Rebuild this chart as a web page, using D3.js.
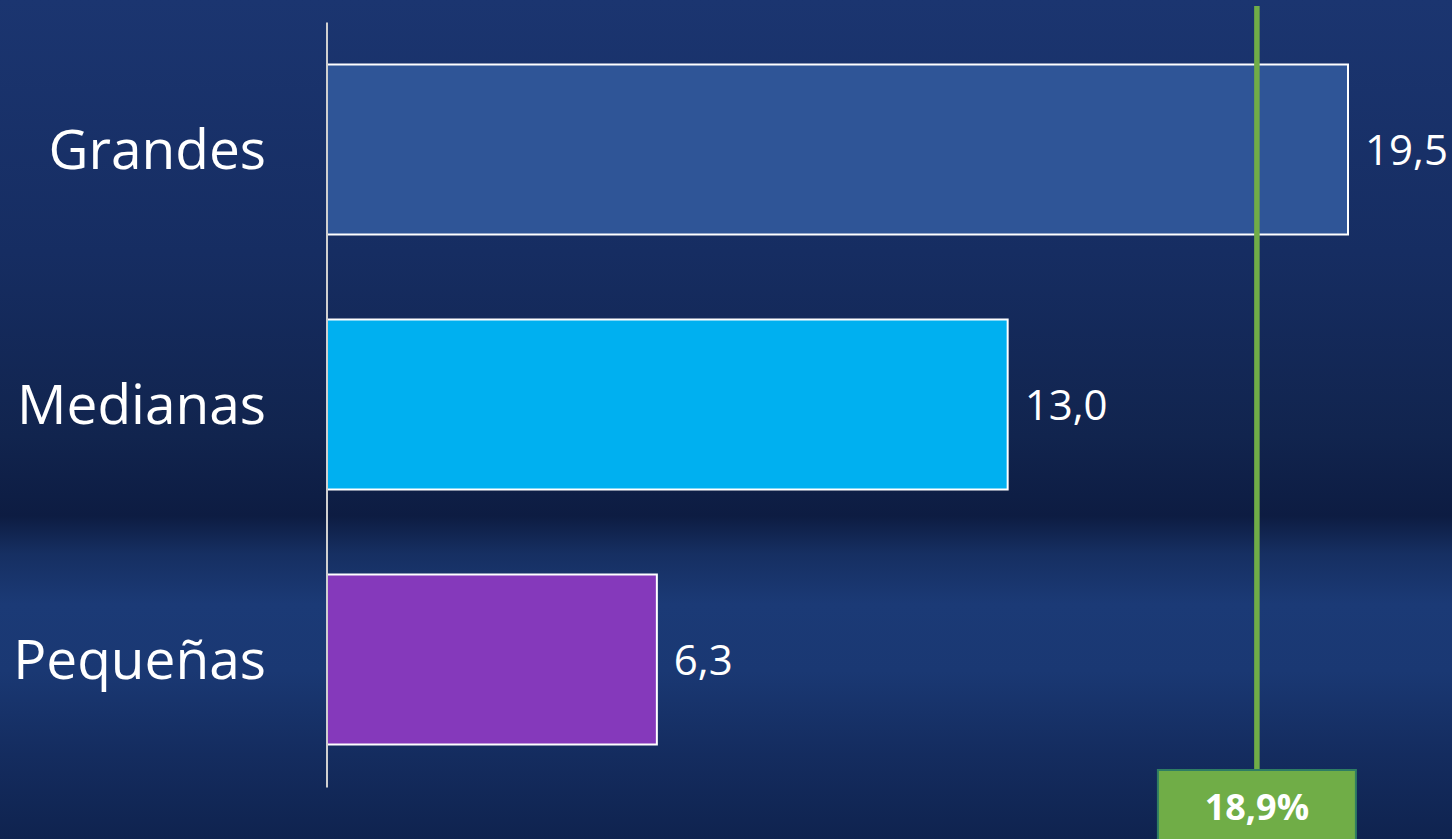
<!DOCTYPE html>
<html>
<head>
<meta charset="utf-8">
<script src="https://cdn.jsdelivr.net/npm/d3@7/dist/d3.min.js"></script>
<style>
  html, body { margin: 0; padding: 0; background: #132a5c; }
  svg { display: block; }
</style>
</head>
<body>
<script>
// ---- data ----
const categories = ["Grandes", "Medianas", "Pequeñas"];
const values = [19.5, 13.0, 6.3];
const valueLabels = ["19,5", "13,0", "6,3"];
const barColors = ["#2f5597", "#00b0f0", "#8539bb"];
const referenceLabel = "18,9%";
const referenceLinePosition = [17.76]; // where the marker line sits on the bar axis

const W = 1452, H = 839;
const svg = d3.select("body").append("svg").attr("width", W).attr("height", H);

// background
const defs = svg.append("defs");
const bg = defs.append("linearGradient").attr("id", "bg").attr("x1", 0).attr("y1", 0).attr("x2", 0).attr("y2", 1);
[[0, "#1b3570"], [0.3, "#162d62"], [0.52, "#11244e"], [0.615, "#0d1c42"], [0.66, "#162f62"],
 [0.72, "#1b3a76"], [0.8, "#1a3873"], [0.9, "#142c5f"], [1, "#0f234f"]]
  .forEach(([o, c]) => bg.append("stop").attr("offset", o).attr("stop-color", c));
svg.append("rect").attr("width", W).attr("height", H).attr("fill", "url(#bg)");

const x0 = 327;
const x = d3.scaleLinear().domain([0, 19.5]).range([x0, 1348]);
const y = d3.scaleBand().domain(categories).range([22, 787]).paddingInner(1 / 3).paddingOuter(1 / 6);

// bars
svg.append("g").selectAll("rect").data(categories).join("rect")
  .attr("x", x(0))
  .attr("y", d => y(d))
  .attr("width", (d, i) => x(values[i]) - x(0))
  .attr("height", y.bandwidth())
  .attr("fill", (d, i) => barColors[i])
  .attr("stroke", "#ffffff")
  .attr("stroke-width", 2);

// axis line
const axis = svg.append("g").attr("transform", `translate(${x0 - 0.5},0)`)
  .call(d3.axisLeft(y).tickSize(0).tickFormat(""));
axis.select(".domain").attr("stroke", "#d0d0d0").attr("stroke-width", 2);

// category labels
svg.append("g").selectAll("text").data(categories).join("text")
  .attr("x", 266)
  .attr("y", d => y(d) + y.bandwidth() / 2)
  .attr("dy", "0.36em")
  .attr("text-anchor", "end")
  .attr("fill", "#ffffff")
  .attr("font-family", "'Open Sans', sans-serif")
  .attr("font-size", 55)
  .text(d => d);

// value labels
svg.append("g").selectAll("text").data(categories).join("text")
  .attr("x", (d, i) => x(values[i]) + 17)
  .attr("y", d => y(d) + y.bandwidth() / 2)
  .attr("dy", "0.36em")
  .attr("fill", "#ffffff")
  .attr("font-family", "'Open Sans', sans-serif")
  .attr("font-size", 42)
  .text((d, i) => valueLabels[i]);

// reference line
svg.append("g").selectAll("line").data(referenceLinePosition).join("line")
  .attr("x1", d => x(d)).attr("x2", d => x(d))
  .attr("y1", 6).attr("y2", 770)
  .attr("stroke", "#70ad47").attr("stroke-width", 5.5);

// reference box
const bx = x(referenceLinePosition[0]);
svg.append("rect")
  .attr("x", bx - 99).attr("y", 770)
  .attr("width", 198).attr("height", 80)
  .attr("fill", "#70ad47")
  .attr("stroke", "#2e7d63").attr("stroke-width", 2);
svg.append("text")
  .attr("x", bx).attr("y", 820)
  .attr("text-anchor", "middle")
  .attr("fill", "#ffffff")
  .attr("font-family", "'Open Sans', sans-serif")
  .attr("font-weight", "bold")
  .attr("font-size", 36)
  .text(referenceLabel);
</script>
</body>
</html>
